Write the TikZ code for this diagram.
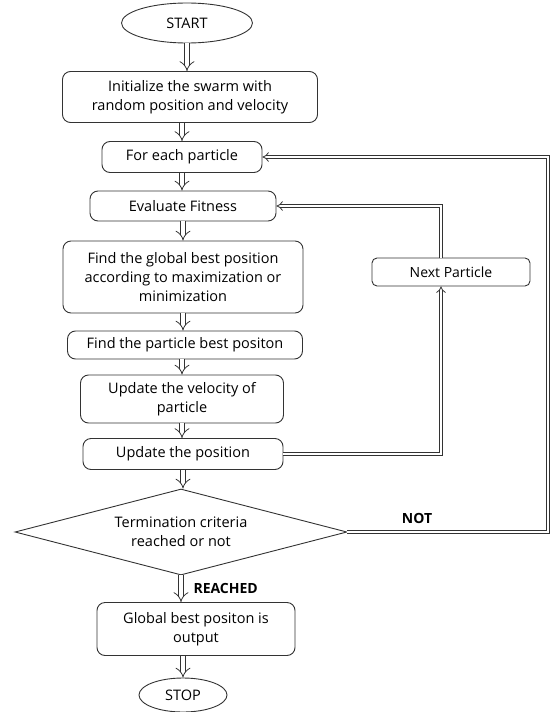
\documentclass[tikz,border=0pt]{standalone}
\usepackage{fontspec}
\setmainfont{Open Sans}
\usetikzlibrary{shapes.geometric,arrows.meta}
\begin{document}
\begin{tikzpicture}[x=1pt,y=-1pt,
  box/.style={rectangle, rounded corners=8pt, draw=black!80, line width=0.9pt, align=center, font=\fontsize{14.5}{19}\selectfont, inner sep=2pt},
  term/.style={ellipse, draw=black!80, line width=0.9pt, font=\fontsize{14.5}{19}\selectfont, inner sep=0pt},
  down/.style={draw=black!80, line width=0.8pt, double=white, double distance=4.5pt, -{Implies[length=5.5pt]}},
  back/.style={draw=black!80, line width=0.8pt, double=white, double distance=2.5pt, -{Implies[length=4pt]}, line join=miter},
  lbl/.style={font=\bfseries\fontsize{14}{17}\selectfont}]
\useasboundingbox (0,0) rectangle (555,712);
% main column
\node [term, minimum width=131pt, minimum height=40pt] (start) at (187,23) {START};
\node [box, minimum width=255pt, minimum height=51pt] (init) at (190,97) {Initialize the swarm with\\random position and velocity};
\node [box, minimum width=160pt, minimum height=31pt] (each) at (182,157) {For each particle};
\node [box, minimum width=186pt, minimum height=30pt] (eval) at (183,206) {Evaluate Fitness};
\node [box, minimum width=240pt, minimum height=72pt] (gbest) at (183,277) {Find the global best position\\according to maximization or\\minimization};
\node [box, minimum width=235pt, minimum height=28pt] (pbest) at (185,345) {Find the particle best positon};
\node [box, minimum width=203pt, minimum height=48pt] (vel) at (182,399) {Update the velocity of\\particle};
\node [box, minimum width=200pt, minimum height=31pt] (pos) at (183,454) {Update the position};
\node [diamond, draw=black!80, line width=0.9pt, aspect=3.9, minimum width=332pt, minimum height=86pt, inner sep=0pt, align=center, font=\fontsize{14.5}{19}\selectfont] (crit) at (181,532) {Termination criteria\\reached or not};
\node [box, minimum width=198pt, minimum height=53pt] (gout) at (196,629) {Global best positon is\\output};
\node [term, minimum width=88pt, minimum height=34pt] (stop) at (183,695) {STOP};
% side
\node [box, rounded corners=5pt, minimum width=158pt, minimum height=28pt, font=\fontsize{14}{17}\selectfont] (next) at (451,272) {Next Particle};
\coordinate (vx) at (441,0);
\coordinate (rx) at (548,0);
% arrows
\draw [down] (start.south) -- (start.south |- init.north);
\draw [down] (each.south |- init.south) -- (each.south |- each.north);
\draw [down] (each.south) -- (each.south |- eval.north);
\draw [down] (eval.south) -- (eval.south |- gbest.north);
\draw [down] (gbest.south) -- (gbest.south |- pbest.north);
\draw [down] (vel.north |- pbest.south) -- (vel.north);
\draw [down] (vel.south) -- (vel.south |- pos.north);
\draw [down] (pos.south) -- (pos.south |- crit.north);
\draw [down] (crit.south) -- (crit.south |- gout.north);
\draw [down] (stop.north |- gout.south) -- (stop.north);
% loops
\draw [back] (pos.east) -| (vx |- next.south);
\draw [back] (vx |- next.north) |- (eval.east);
\draw [back] (crit.east) -- (crit.east -| rx) |- (each.east);
\node [lbl] (notlbl) at (417,518) {NOT};
\node [lbl, anchor=west] (reachlbl) at (190,588) {REACHED};
\end{tikzpicture}
\end{document}
